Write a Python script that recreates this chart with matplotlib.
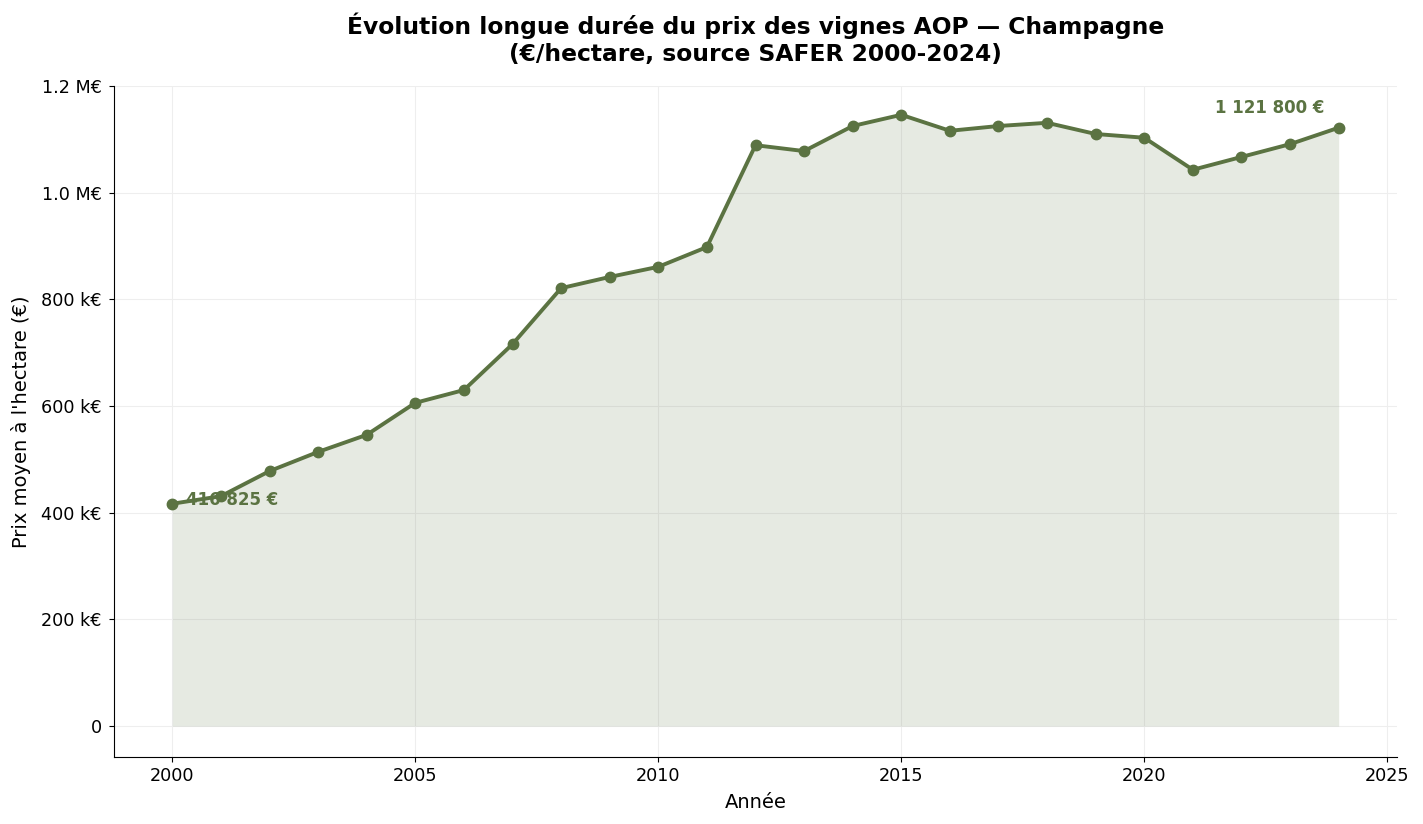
import matplotlib
matplotlib.use("Agg")
import matplotlib.pyplot as plt
from matplotlib.ticker import FuncFormatter

years = list(range(2000, 2025))
prices = [416825, 431000, 478000, 514000, 546000, 606000, 630000, 716000,
          821000, 842000, 861000, 898000, 1089000, 1078000, 1125000, 1146000,
          1116000, 1125000, 1131000, 1110000, 1103000, 1043000, 1067000,
          1091000, 1121800]

color = '#5b7342'

fig = plt.figure(figsize=(14.23, 8.24), dpi=100)
ax = fig.add_axes([114/1423, 1 - 757/824, (1397-114)/1423, (757-86)/824])

ax.fill_between(years, prices, 0, color=color, alpha=0.15, linewidth=0)
ax.plot(years, prices, color=color, linewidth=2.8, marker='o', markersize=7.5)

def fmt(v, pos):
    if v == 0:
        return '0'
    if v >= 1_000_000:
        return f'{v/1e6:.1f} M€'
    return f'{v/1e3:.0f} k€'

ax.yaxis.set_major_formatter(FuncFormatter(fmt))
ax.set_ylim(-58000, 1200000)
ax.set_yticks([0, 200000, 400000, 600000, 800000, 1000000, 1200000])
ax.set_xlim(1998.8, 2025.2)
ax.set_xticks([2000, 2005, 2010, 2015, 2020, 2025])
ax.tick_params(labelsize=12.7)
ax.tick_params(axis='y', pad=5.5)
ax.grid(True, color='#eeeeee', linewidth=0.8)
ax.set_axisbelow(True)
for s in ['top', 'right']:
    ax.spines[s].set_visible(False)

def fr(v):
    return f'{v:,.0f}'.replace(',', ' ') + ' €'

ax.annotate(fr(prices[0]), (years[0], prices[0]), xytext=(10, 3),
            textcoords='offset points', color=color, fontweight='bold',
            fontsize=12, va='center', ha='left')
ax.annotate(fr(prices[-1]), (years[-1], prices[-1]), xytext=(-10, 8),
            textcoords='offset points', color=color, fontweight='bold',
            fontsize=12, va='bottom', ha='right')

ax.set_xlabel('Année', fontsize=14, labelpad=6)
ax.set_ylabel("Prix moyen à l'hectare (€)", fontsize=14, labelpad=7)
ax.set_title('Évolution longue durée du prix des vignes AOP — Champagne\n(€/hectare, source SAFER 2000-2024)',
             fontsize=16.8, fontweight='bold', pad=18)

fig.savefig('out.png', dpi=100)
